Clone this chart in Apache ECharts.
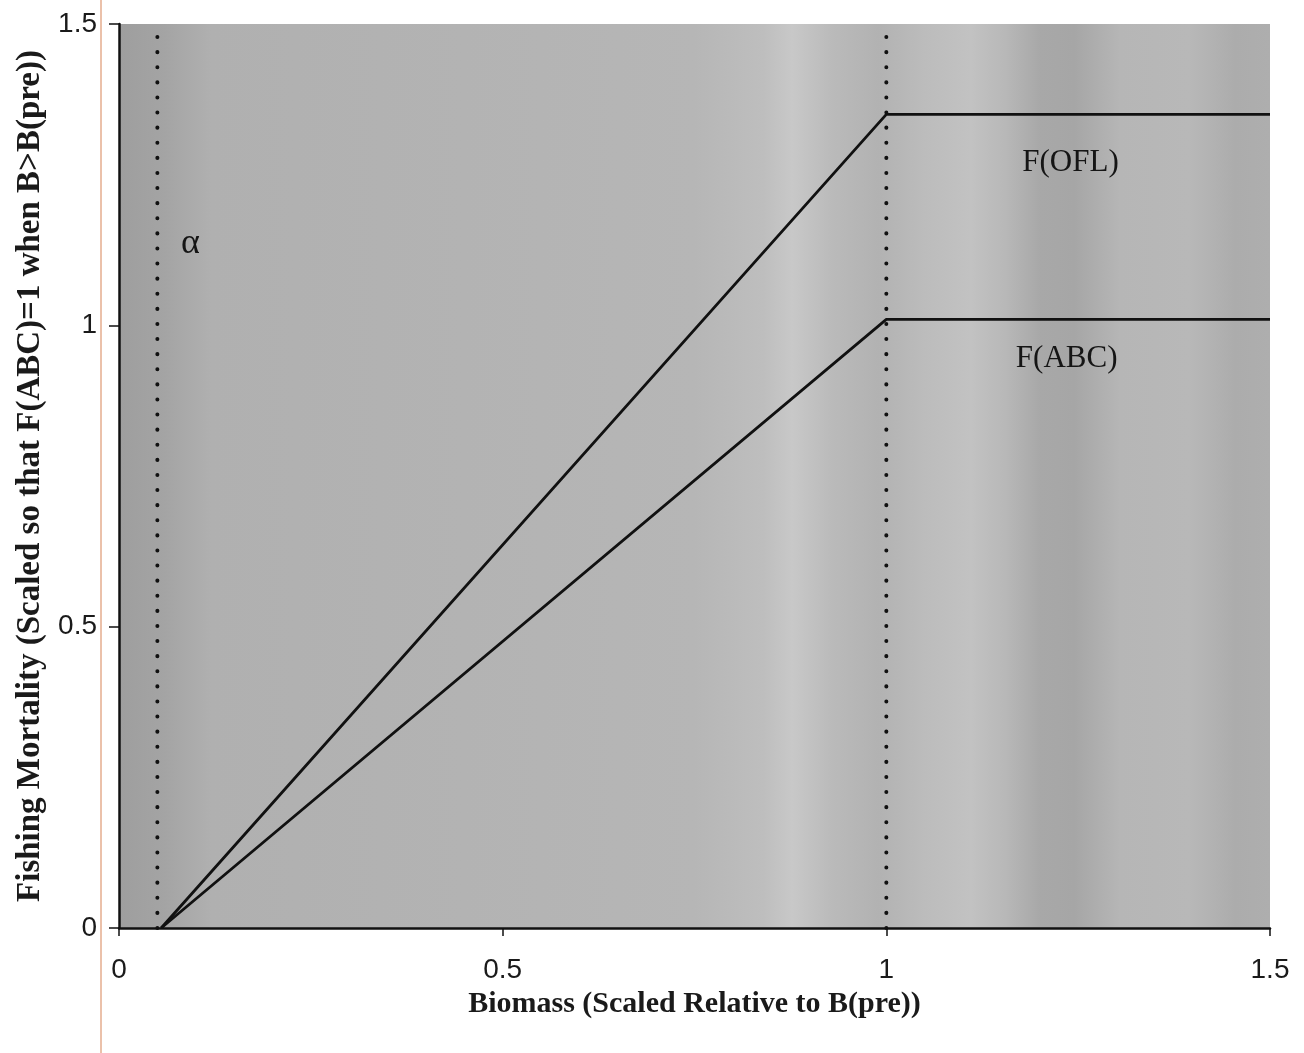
<!DOCTYPE html>
<html>
<head>
<meta charset="utf-8">
<script src="https://cdn.jsdelivr.net/npm/echarts@6/dist/echarts.min.js"></script>
<style>
  html, body { margin: 0; padding: 0; background: #ffffff; }
  #chart { width: 1304px; height: 1053px; }
</style>
</head>
<body>
<div id="chart"></div>
<script>
// ---- data ----
const xTicks = [0, 0.5, 1, 1.5];
const yTicks = [0, 0.5, 1, 1.5];
const biomassOFL = [0.055, 1.0, 1.5];
const fOFL = [0, 1.35, 1.35];
const biomassABC = [0.055, 1.0, 1.5];
const fABC = [0, 1.01, 1.01];
const alphaLine = 0.05;      // dotted reference line (alpha)
const bpreLine = 1.0;        // dotted reference line (B(pre))
const labelNames = ['F(OFL)', 'F(ABC)', 'α'];
const labelX = [1.24, 1.235, 0.093];
const labelY = [1.27, 0.945, 1.135];

const xTitle = 'Biomass (Scaled Relative to B(pre))';
const yTitle = 'Fishing Mortality (Scaled so that F(ABC)=1 when B>B(pre))';

function pairs(xs, ys) { return xs.map((x, i) => [x, ys[i]]); }

const chart = echarts.init(document.getElementById('chart'), null, { renderer: 'canvas' });

const bg = new echarts.graphic.LinearGradient(0, 0, 1, 0, [
  { offset: 0.00, color: '#9e9e9e' },
  { offset: 0.04, color: '#a4a4a4' },
  { offset: 0.08, color: '#b0b0b0' },
  { offset: 0.30, color: '#b3b3b3' },
  { offset: 0.50, color: '#b6b6b6' },
  { offset: 0.56, color: '#bebebe' },
  { offset: 0.585, color: '#c8c8c8' },
  { offset: 0.62, color: '#bababa' },
  { offset: 0.66, color: '#b2b2b2' },
  { offset: 0.70, color: '#bcbcbc' },
  { offset: 0.74, color: '#c2c2c2' },
  { offset: 0.77, color: '#b8b8b8' },
  { offset: 0.80, color: '#a8a8a8' },
  { offset: 0.83, color: '#a6a6a6' },
  { offset: 0.87, color: '#b6b6b6' },
  { offset: 0.93, color: '#b8b8b8' },
  { offset: 0.97, color: '#acacac' },
  { offset: 1.00, color: '#aeaeae' }
]);

const serif = '"Liberation Serif", "DejaVu Serif", "Times New Roman", serif';
const sans = '"Liberation Sans", Arial, Helvetica, sans-serif';

const textPoints = labelNames.map((n, i) => ({
  coord: [labelX[i], labelY[i]],
  value: n,
  label: {
    show: true,
    formatter: n,
    position: 'inside',
    color: '#151515',
    fontFamily: serif,
    fontSize: i === 2 ? 36 : 31
  }
}));

const option = {
  animation: false,
  backgroundColor: '#ffffff',
  grid: {
    left: 119, right: 34, top: 24, bottom: 125,
    show: true,
    backgroundColor: bg,
    borderWidth: 0
  },
  xAxis: {
    type: 'value',
    min: 0, max: 1.5, interval: 0.5,
    name: xTitle,
    nameLocation: 'middle',
    nameGap: 58,
    nameTextStyle: { fontFamily: serif, fontWeight: 'bold', fontSize: 30, color: '#1a1a1a' },
    axisLine: { show: true, onZero: false, lineStyle: { color: '#111', width: 2.5 } },
    axisTick: { show: true, inside: false, length: 8, lineStyle: { color: '#111', width: 1.5 } },
    axisLabel: {
      margin: 28, fontFamily: sans, fontSize: 28, color: '#1a1a1a',
      formatter: v => String(xTicks.find(t => Math.abs(t - v) < 1e-9) ?? v)
    },
    splitLine: { show: false }
  },
  yAxis: {
    type: 'value',
    min: 0, max: 1.5, interval: 0.5,
    name: yTitle,
    nameLocation: 'middle',
    nameGap: 64,
    nameTextStyle: { fontFamily: serif, fontWeight: 'bold', fontSize: 33, color: '#1a1a1a' },
    axisLine: { show: true, onZero: false, lineStyle: { color: '#111', width: 2.5 } },
    axisTick: { show: true, inside: false, length: 10, lineStyle: { color: '#111', width: 1.5 } },
    axisLabel: {
      margin: 22, fontFamily: sans, fontSize: 28, color: '#1a1a1a',
      formatter: v => String(yTicks.find(t => Math.abs(t - v) < 1e-9) ?? v)
    },
    splitLine: { show: false }
  },
  series: [
    {
      name: 'alpha', type: 'line', symbol: 'none', silent: true,
      data: [[alphaLine, 0], [alphaLine, 1.5]],
      lineStyle: { color: '#111', width: 4, type: [0.1, 15], cap: 'round' }
    },
    {
      name: 'B(pre)', type: 'line', symbol: 'none', silent: true,
      data: [[bpreLine, 0], [bpreLine, 1.5]],
      lineStyle: { color: '#111', width: 4, type: [0.1, 15], cap: 'round' }
    },
    {
      name: 'F(OFL)', type: 'line', symbol: 'none',
      data: pairs(biomassOFL, fOFL),
      lineStyle: { color: '#111', width: 2.8 }
    },
    {
      name: 'F(ABC)', type: 'line', symbol: 'none',
      data: pairs(biomassABC, fABC),
      lineStyle: { color: '#111', width: 2.8 },
      markPoint: {
        symbol: 'circle', symbolSize: 0,
        silent: true,
        data: textPoints
      }
    }
  ],
  graphic: [
    {
      type: 'line', silent: true, z: 100,
      shape: { x1: 101, y1: 0, x2: 101, y2: 1053 },
      style: { stroke: '#e5ad8e', lineWidth: 1.5 }
    }
  ]
};

chart.setOption(option);
</script>
</body>
</html>
